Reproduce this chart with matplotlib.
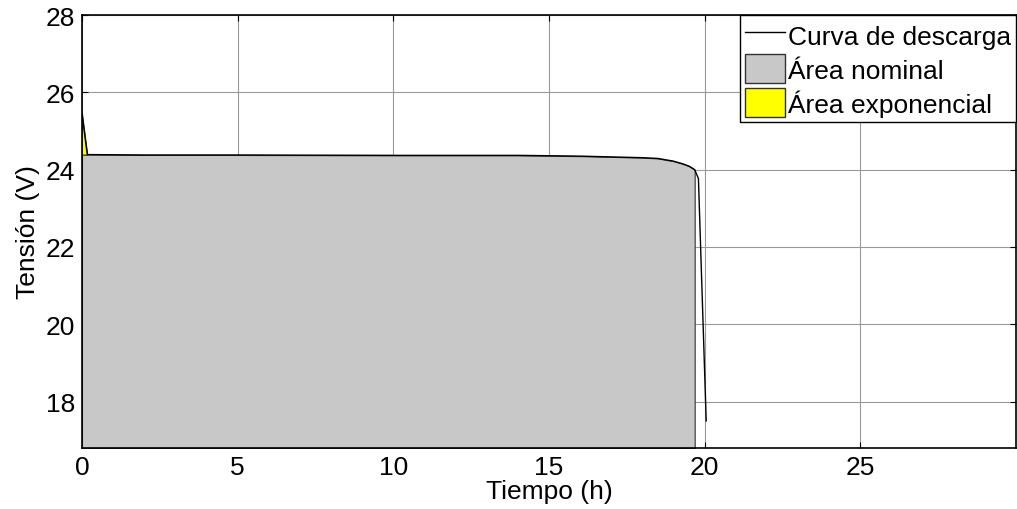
import matplotlib
matplotlib.use('Agg')
import matplotlib.pyplot as plt
from matplotlib.lines import Line2D
from matplotlib.patches import Patch

plt.rcParams['font.family'] = ['Liberation Sans', 'DejaVu Sans']

# curva de descarga (h, V)
tiempo = [0, 0.17, 2, 5, 10, 14, 15, 16, 17, 18, 18.5, 19, 19.3, 19.5, 19.68, 19.8, 20.05]
tension = [25.45, 24.39, 24.38, 24.38, 24.37, 24.37, 24.36, 24.35, 24.33, 24.31, 24.29, 24.22, 24.15, 24.09, 24.0, 23.77, 17.5]

# zona exponencial y nominal
t_exp = [0, 0.17]
v_exp = [25.45, 24.39]
v_exp_base = 24.39
t_fin_nom = 19.68

etiquetas = ['Curva de descarga', 'Área nominal', 'Área exponencial']

fig = plt.figure(figsize=(10.17, 5.10), dpi=100)
ax = fig.add_axes([0.0806, 0.1196, 0.9184, 0.849])

t_nom = [t for t in tiempo if t <= t_fin_nom]
v_nom = [min(v, v_exp_base) for t, v in zip(tiempo, tension) if t <= t_fin_nom]

ax.fill_between(t_nom, 16.8, v_nom, facecolor='#c8c8c8', edgecolor='#333333', lw=0.8, zorder=2)
ax.fill_between(t_exp, v_exp_base, v_exp, facecolor='#ffff00', edgecolor='#333333', lw=0.8, zorder=2)
ax.plot(tiempo, tension, color='k', lw=1.0, zorder=3)

ax.set_xlim(0, 30)
ax.set_ylim(16.8, 28)
ax.set_xticks([0, 5, 10, 15, 20, 25])
ax.set_yticks([18, 20, 22, 24, 26, 28])
ax.tick_params(direction='in', top=True, right=True, length=4, labelsize=19, pad=5)
ax.set_axisbelow(True)
ax.grid(True, color='#999999', lw=0.8)
for s in ax.spines.values():
    s.set_linewidth(1.2)

ax.set_xlabel('Tiempo (h)', fontsize=19, labelpad=0)
ax.set_ylabel('Tensión (V)', fontsize=19, labelpad=4)

handles = [Line2D([], [], color='k', lw=1.0),
           Patch(facecolor='#c8c8c8', edgecolor='#333333'),
           Patch(facecolor='#ffff00', edgecolor='#333333')]
leg = ax.legend(handles, etiquetas, loc='upper right', borderaxespad=0, fancybox=False,
                edgecolor='k', framealpha=1, fontsize=19, handlelength=1.5, handleheight=1.3,
                handletextpad=0.1, borderpad=0.2, labelspacing=0.2)
leg.get_frame().set_linewidth(1.0)

fig.savefig('out.png', dpi=100)
